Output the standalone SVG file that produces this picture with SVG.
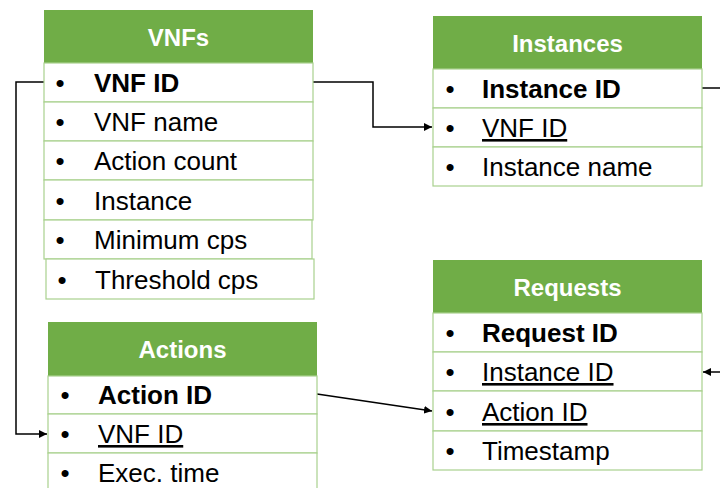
<svg xmlns="http://www.w3.org/2000/svg" width="720" height="488" viewBox="0 0 720 488">
<defs>
<style>
.hdr{fill:#70AD47}
.row{fill:#fff;stroke:#A9D18E;stroke-width:1.2}
.ht{font-family:"Liberation Sans",Arial,sans-serif;font-size:24px;font-weight:bold;fill:#fff;text-anchor:middle}
.t{font-family:"Liberation Sans",Arial,sans-serif;font-size:26px;fill:#000}
.b{font-weight:bold}
.u{text-decoration:underline}
.bl{font-family:"Liberation Sans",Arial,sans-serif;font-size:26px;fill:#000;text-anchor:middle}
.c{fill:none;stroke:#000;stroke-width:1.5}
</style>
<marker id="ah" viewBox="0 0 10 10" refX="10" refY="5" markerWidth="8" markerHeight="8" markerUnits="userSpaceOnUse" orient="auto">
<path d="M0,0 L10,5 L0,10 z" fill="#000"/>
</marker>
</defs>
<rect width="720" height="488" fill="#fff"/>

<g id="connectors">
<path class="c" d="M44,82 H16 V434 H47" marker-end="url(#ah)"/>
<path class="c" d="M313,82 H373 V127 H432" marker-end="url(#ah)"/>
<path class="c" d="M317,394 L432,411" marker-end="url(#ah)"/>
<path class="c" d="M702,88 H720"/>
<path class="c" d="M722,372 H703" marker-end="url(#ah)"/>
</g>

<g id="vnfs">
<rect class="hdr" x="44" y="10" width="269" height="53"/>
<text class="ht" x="178.5" y="46">VNFs</text>
<rect class="row" x="44" y="63" width="269" height="39"/>
<rect class="row" x="44" y="102" width="269" height="39"/>
<rect class="row" x="44" y="141" width="269" height="39"/>
<rect class="row" x="44" y="180" width="269" height="40"/>
<rect class="row" x="44" y="220" width="268" height="39"/>
<rect class="row" x="46" y="259" width="268" height="40"/>
<text class="bl" x="60" y="92">•</text>
<text class="t b" x="94" y="92">VNF ID</text>
<text class="bl" x="60" y="131">•</text>
<text class="t" x="94" y="131">VNF name</text>
<text class="bl" x="60" y="170">•</text>
<text class="t" x="94" y="170">Action count</text>
<text class="bl" x="60" y="210">•</text>
<text class="t" x="94" y="210">Instance</text>
<text class="bl" x="60" y="249">•</text>
<text class="t" x="94" y="249">Minimum cps</text>
<text class="bl" x="62" y="289">•</text>
<text class="t" x="95" y="289">Threshold cps</text>
</g>

<g id="instances">
<rect class="hdr" x="433" y="16" width="269" height="53"/>
<text class="ht" x="567.5" y="52">Instances</text>
<rect class="row" x="433" y="69" width="269" height="39"/>
<rect class="row" x="433" y="108" width="269" height="39"/>
<rect class="row" x="433" y="147" width="269" height="39"/>
<text class="bl" x="450" y="98">•</text>
<text class="t b" x="482" y="98">Instance ID</text>
<text class="bl" x="450" y="137">•</text>
<text class="t u" x="482" y="137">VNF ID</text>
<text class="bl" x="450" y="176">•</text>
<text class="t" x="482" y="176">Instance name</text>
</g>

<g id="requests">
<rect class="hdr" x="433" y="260" width="269" height="53"/>
<text class="ht" x="567.5" y="296">Requests</text>
<rect class="row" x="433" y="313" width="269" height="39"/>
<rect class="row" x="433" y="352" width="269" height="39"/>
<rect class="row" x="433" y="391" width="269" height="40"/>
<rect class="row" x="433" y="431" width="269" height="39"/>
<text class="bl" x="450" y="342">•</text>
<text class="t b" x="482" y="342">Request ID</text>
<text class="bl" x="450" y="381">•</text>
<text class="t u" x="482" y="381">Instance ID</text>
<text class="bl" x="450" y="421">•</text>
<text class="t u" x="482" y="421">Action ID</text>
<text class="bl" x="450" y="460">•</text>
<text class="t" x="482" y="460">Timestamp</text>
</g>

<g id="actions">
<rect class="hdr" x="48" y="322" width="269" height="54"/>
<text class="ht" x="182.5" y="358">Actions</text>
<rect class="row" x="48" y="376" width="269" height="38"/>
<rect class="row" x="48" y="414" width="269" height="39"/>
<rect class="row" x="48" y="453" width="269" height="39"/>
<text class="bl" x="65" y="404">•</text>
<text class="t b" x="98" y="404">Action ID</text>
<text class="bl" x="65" y="443">•</text>
<text class="t u" x="98" y="443">VNF ID</text>
<text class="bl" x="65" y="482">•</text>
<text class="t" x="98" y="482">Exec. time</text>
</g>
</svg>
